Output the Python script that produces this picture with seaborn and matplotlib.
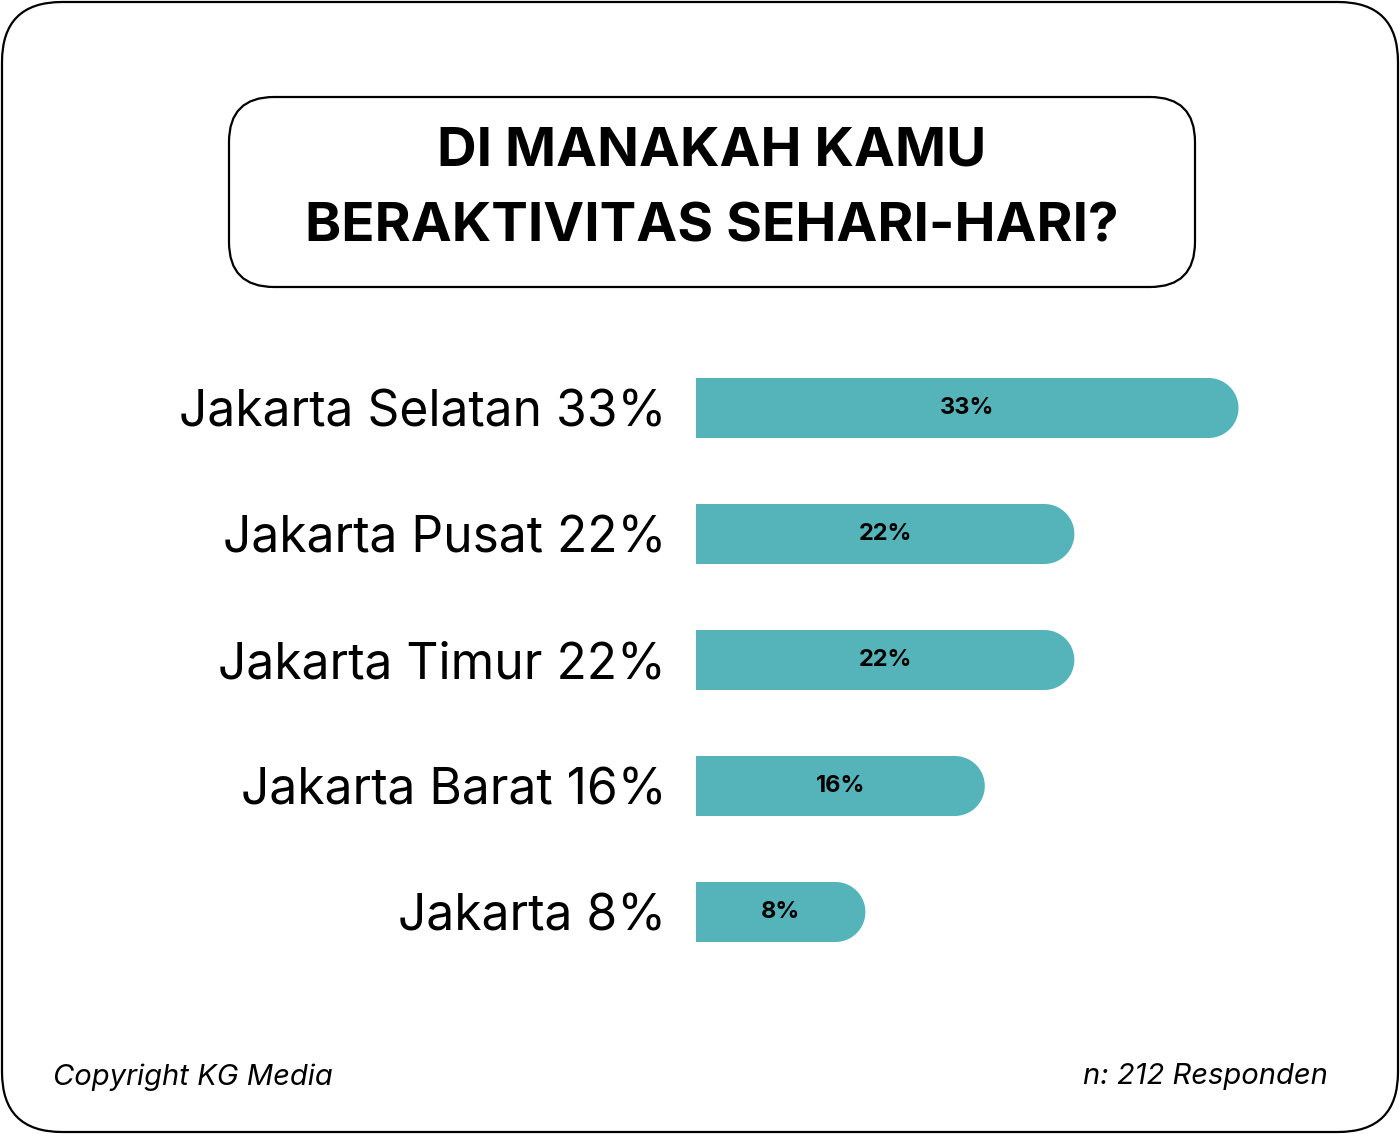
import numpy as np
import pandas as pd
import matplotlib
matplotlib.use("Agg")
import matplotlib.pyplot as plt
from matplotlib.patches import FancyBboxPatch, Polygon
import seaborn as sns

# ---- data ----
categories = ["Jakarta Selatan", "Jakarta Pusat", "Jakarta Timur", "Jakarta Barat", "Jakarta"]
values = [33, 22, 22, 16, 8]
tick_labels = [f"{c} {v}%" for c, v in zip(categories, values)]
bar_labels = [f"{v}%" for v in values]
title_lines = ["DI MANAKAH KAMU", "BERAKTIVITAS SEHARI-HARI?"]
footer_left = "Copyright KG Media"
footer_right = "n: 212 Responden"

TEAL = "#54B4B9"
W, H = 1400, 1134

sns.set_theme(style="white")
plt.rcParams["font.family"] = ["Inter", "DejaVu Sans"]

fig = plt.figure(figsize=(W / 100, H / 100), dpi=100)
fig.patch.set_facecolor("white")

# outer rounded border (inch coords -> isotropic rounding)
fig.patches.append(FancyBboxPatch((0.02, 0.02), W / 100 - 0.04, H / 100 - 0.04,
                                  boxstyle="round,pad=0,rounding_size=0.6",
                                  transform=fig.dpi_scale_trans, fill=False,
                                  edgecolor="black", linewidth=1.6))
# title box
fig.patches.append(FancyBboxPatch((2.29, (H - 287) / 100), 9.66, 1.90,
                                  boxstyle="round,pad=0,rounding_size=0.45",
                                  transform=fig.dpi_scale_trans, fill=False,
                                  edgecolor="black", linewidth=1.6))

fig.text(712 / W, 1 - 151 / H, title_lines[0], ha="center", va="center",
         fontsize=39.5, fontweight="bold", color="black")
fig.text(712 / W, 1 - 228 / H, title_lines[1], ha="center", va="center",
         fontsize=39.5, fontweight="bold", color="black")

# ---- bar axes ----
ax_left, ax_right = 696, 1293
ax_top, ax_bottom = 345, 975
ax = fig.add_axes([ax_left / W, 1 - ax_bottom / H, (ax_right - ax_left) / W, (ax_bottom - ax_top) / H])
df = pd.DataFrame({"label": tick_labels, "value": values})
sns.barplot(data=df, y="label", x="value", orient="h", color=TEAL,
            width=0.476, ax=ax, saturation=1)
xmax = 40
ax.set_xlim(0, xmax)
ax.set_ylim(4.5, -0.5)

px_per_unit = (ax_right - ax_left) / xmax
ext_px, cap_px = 20, 30
ext = ext_px / px_per_unit
rx = cap_px / px_per_unit

for p, lab in zip(list(ax.patches), bar_labels):
    x0, y0 = p.get_x(), p.get_y()
    w, h = p.get_width(), p.get_height()
    yc = y0 + h / 2
    ry = h / 2
    th = np.linspace(-np.pi / 2, np.pi / 2, 60)
    arc = np.column_stack([w + ext + rx * np.cos(th), yc + ry * np.sin(th)])
    pts = np.vstack([[x0, y0], arc, [x0, y0 + h]])
    p.remove()
    ax.add_patch(Polygon(pts, closed=True, facecolor=TEAL, edgecolor="none"))
    ax.text((w + ext + rx) / 2, yc, lab, ha="center", va="center",
            fontsize=17, fontweight="bold", color="black")

ax.set_xlabel("")
ax.set_ylabel("")
ax.set_xticks([])
for s in ax.spines.values():
    s.set_visible(False)
ax.tick_params(axis="y", length=0, pad=21.5, labelsize=35.8)
for t in ax.get_yticklabels():
    t.set_color("black")
ax.set_facecolor("none")

# footer
fig.text(53 / W, 1 - 1077 / H, footer_left, ha="left", va="center",
         fontsize=21, style="italic", color="black")
fig.text(1328 / W, 1 - 1077 / H, footer_right, ha="right", va="center",
         fontsize=21, style="italic", color="black")

fig.savefig("out.png", dpi=100, facecolor="white")
